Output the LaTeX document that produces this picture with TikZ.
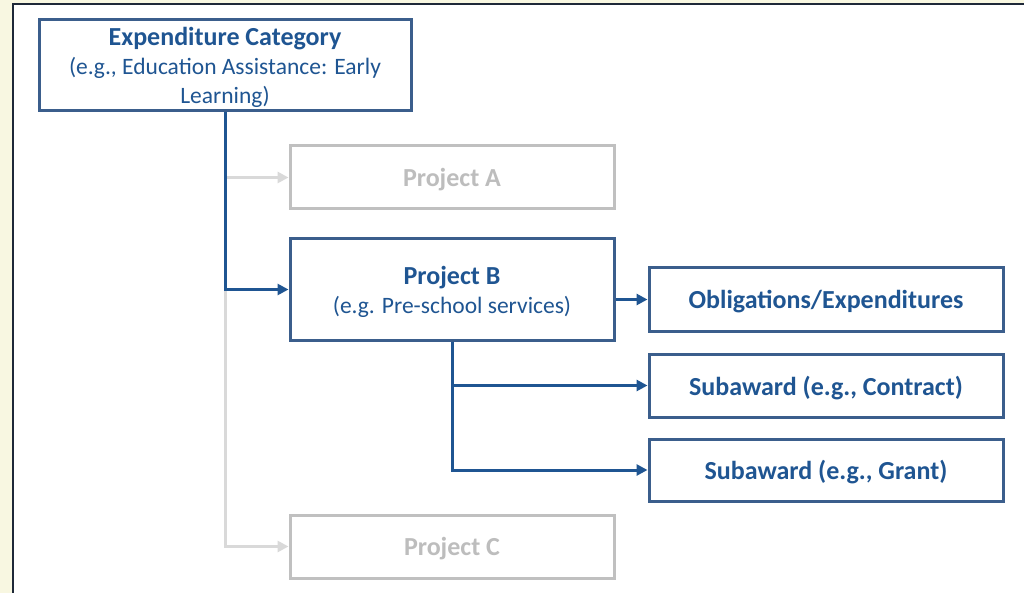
\documentclass[tikz,border=0pt]{standalone}
\usepackage{fontspec}
\setmainfont{Carlito}
\usetikzlibrary{arrows.meta}

\definecolor{cream}{HTML}{F8F7E1}
\definecolor{frame}{HTML}{1E2838}
\definecolor{darkblue}{HTML}{1F5592}
\definecolor{boxblue}{HTML}{3B5E8C}
\definecolor{greybox}{HTML}{C0C0C0}
\definecolor{greytext}{HTML}{BDBDBD}
\definecolor{greyline}{HTML}{D9D9D9}

\newcommand{\headfont}{\fontsize{26}{29}\selectfont\bfseries}
\newcommand{\subfont}{\fontsize{23.5}{29}\selectfont\mdseries}

\tikzset{
	bluebox/.style={draw=boxblue,line width=3pt,text=darkblue,align=center,inner sep=0pt,text depth=0pt,font=\headfont},
	greybx/.style={draw=greybox,line width=3pt,text=greytext,align=center,inner sep=0pt,text depth=0pt,font=\headfont},
	blueconn/.style={draw=darkblue,line width=3pt,-{Triangle[length=11pt,width=11pt]}},
	greyconn/.style={draw=greyline,line width=3pt,-{Triangle[length=11pt,width=11pt]}}
}

\begin{document}
\begin{tikzpicture}[x=1pt,y=-1pt]
		\useasboundingbox (0,0) rectangle (1024,593);
		\fill[cream] (0,0) rectangle (1024,593);
		\draw[frame,line width=2pt,fill=white] (12.5,4.5) rectangle (1040,610);
		
		% top level
		\node[bluebox,minimum width=372pt,minimum height=91pt] (exp) at (225,65.5) {%
				Expenditure Category\\
				{\subfont (e.g., Education Assistance: Early}\\
				{\subfont Learning)}};
		
		% projects
		\node[greybx,minimum width=324pt,minimum height=63pt] (projA) at (452,177.5) {Project A};
		\node[bluebox,minimum width=324pt,minimum height=101pt] (projB) at (452,289.5) {%
				Project B\\
				{\subfont (e.g. Pre-school services)}};
		\node[greybx,minimum width=324pt,minimum height=63pt] (projC) at (452,546.5) {Project C};
		
		% below project B
		\node[bluebox,minimum width=354pt,minimum height=63pt] (oblig) at (826,299.5) {Obligations/Expenditures};
		\node[bluebox,minimum width=354pt,minimum height=63pt] (subc) at (826,385.5) {Subaward (e.g., Contract)};
		\node[bluebox,minimum width=354pt,minimum height=62pt] (subg) at (826,470) {Subaward (e.g., Grant)};
		
		% connectors
		\draw[greyconn] (exp.south |- projA.west) -- (projA.west);
		\draw[greyconn] (exp.south |- projB.west) |- (projC.west);
		\draw[blueconn] (exp.south) |- (projB.west);
		\draw[blueconn] (projB.east |- oblig.west) -- (oblig.west);
		\draw[blueconn] (projB.south) |- (subc.west);
		\draw[blueconn] (projB.south) |- (subg.west);
\end{tikzpicture}
\end{document}
